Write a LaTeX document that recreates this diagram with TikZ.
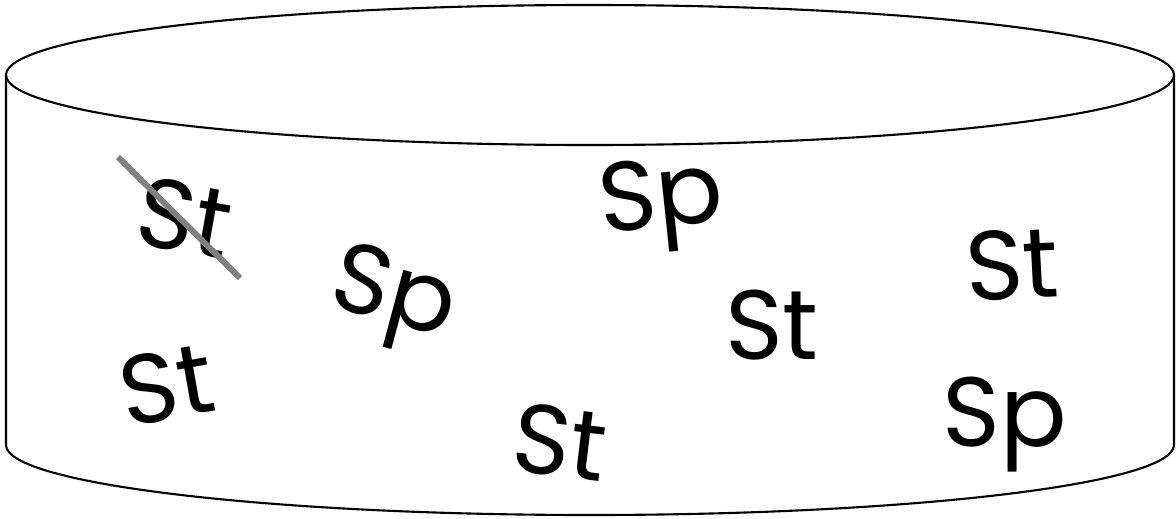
\documentclass[tikz,border=0pt]{standalone}
\usepackage{fontspec}
\setmainfont{Poppins}
\usepackage{tikz}
\usetikzlibrary{calc}
\definecolor{ink}{HTML}{000000}
\definecolor{strike}{HTML}{808080}

\begin{document}
\begin{tikzpicture}[x=0.01cm, y=-0.01cm,
    label/.style={font=\fontsize{28}{30}\selectfont, text=ink, inner sep=0pt}]
        \useasboundingbox (0,0) rectangle (1176,518);
        % drum
        \draw[ink, line width=0.6pt] (590,75) ellipse [x radius=584, y radius=70];
        \draw[ink, line width=0.6pt] (6,75) -- (6,445)
          arc[start angle=180, end angle=0, x radius=584, y radius=70] -- (1174,75);
        % contents
        \node[label, rotate=-10] (stA) at (185,218) {St};
        \node[label, rotate=-15] (spA) at (392,300) {Sp};
        \node[label, rotate=6]   (spB) at (662,205) {Sp};
        \node[label]             (stB) at (772,325) {St};
        \node[label, rotate=3]   (stC) at (1012,265) {St};
        \node[label, rotate=10]  (stD) at (167,385) {St};
        \node[label, rotate=-7]  (stE) at (560,442) {St};
        \node[label]             (spC) at (1005,425) {Sp};
        \draw[strike, line width=1.7pt] ($(stA)+(-67,-61)$) -- ($(stA)+(55,60)$);
      \end{tikzpicture}
\end{document}
